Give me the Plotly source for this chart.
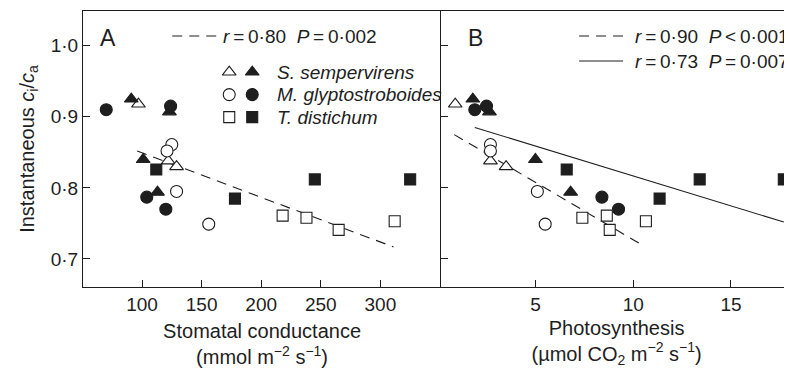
import plotly.graph_objects as go

# ---------------- data ----------------
# S. sempervirens
ss_open_ci = [0.918, 0.838, 0.830]
ss_open_gs = [97, 122, 129]
ss_open_ps = [0.9, 2.7, 3.5]
ss_fill_ci = [0.925, 0.907, 0.840, 0.794]
ss_fill_gs = [91, 123, 101, 113]
ss_fill_ps = [1.8, 2.65, 5.0, 6.8]
# M. glyptostroboides
mg_open_ci = [0.861, 0.852, 0.795, 0.749]
mg_open_gs = [125, 121, 129, 156]
mg_open_ps = [2.7, 2.7, 5.1, 5.5]
mg_fill_ci = [0.910, 0.915, 0.787, 0.770]
mg_fill_gs = [70, 124, 104, 120]
mg_fill_ps = [1.9, 2.5, 8.4, 9.25]
# T. distichum
td_open_ci = [0.761, 0.758, 0.741, 0.753]
td_open_gs = [218, 238, 265, 312]
td_open_ps = [8.65, 7.4, 8.8, 10.65]
td_fill_ci = [0.826, 0.785, 0.812, 0.812]
td_fill_gs = [112, 178, 245, 325]
td_fill_ps = [6.6, 11.35, 13.4, 17.7]

# regression lines (end points)
fitA_gs = [96, 311]
fitA_ci = [0.852, 0.717]
fitB_dash_ps = [0.85, 10.5]
fitB_dash_ci = [0.875, 0.719]
fitB_solid_ps = [1.9, 17.7]
fitB_solid_ci = [0.885, 0.752]

y_ticks = [0.7, 0.8, 0.9, 1.0]
y_tick_text = ["0·7", "0·8", "0·9", "1·0"]
xA_ticks = [100, 150, 200, 250, 300]
xB_ticks = [5, 10, 15]

species = ["<i>S. sempervirens</i>", "<i>M. glyptostroboides</i>", "<i>T. distichum</i>"]
stats_A = "<i>r</i>\u2009=\u20090·80  <i>P</i>\u2009=\u20090·002"
stats_B1 = "<i>r</i>\u2009=\u20090·90  <i>P</i>\u2009<\u20090·001"
stats_B2 = "<i>r</i>\u2009=\u20090·73  <i>P</i>\u2009=\u20090·007"

# ---------------- style ----------------
FONT = "Liberation Sans, Arial, sans-serif"
FS = 19
INK = "#1e1e1e"
OFF = 8                      # page body margin in the browser
W, H = 792 - OFF, 368 - OFF  # figure fills the rest of the window
# plot area in window pixels: x 82.7..792, y 11..286.7
L = 82.7 - OFF
R = 0
T = 11 - OFF
B = H - (286.7 - OFF)
splitA = (441 - 82.7) / (792 - 82.7)

fig = go.Figure()

def pts(x, y, sym, filled, xa, ya, size):
    fig.add_trace(go.Scatter(
        x=x, y=y, mode="markers", xaxis=xa, yaxis=ya, showlegend=False,
        marker=dict(symbol=sym, size=size,
                    color=INK if filled else "white",
                    line=dict(color=INK, width=1.1)),
        hoverinfo="skip"))

# fit lines
fig.add_trace(go.Scatter(x=fitA_gs, y=fitA_ci, mode="lines", xaxis="x", yaxis="y",
                         line=dict(color=INK, width=1.1, dash="10px,7px"), showlegend=False))
fig.add_trace(go.Scatter(x=fitB_dash_ps, y=fitB_dash_ci, mode="lines", xaxis="x2", yaxis="y2",
                         line=dict(color=INK, width=1.1, dash="10px,7px"), showlegend=False))
fig.add_trace(go.Scatter(x=fitB_solid_ps, y=fitB_solid_ci, mode="lines", xaxis="x2", yaxis="y2",
                         line=dict(color=INK, width=1.1), showlegend=False))

groups = [
    (ss_open_gs, ss_open_ps, ss_open_ci, "triangle-up", False, 12),
    (ss_fill_gs, ss_fill_ps, ss_fill_ci, "triangle-up", True, 12),
    (mg_open_gs, mg_open_ps, mg_open_ci, "circle", False, 12),
    (mg_fill_gs, mg_fill_ps, mg_fill_ci, "circle", True, 12),
    (td_open_gs, td_open_ps, td_open_ci, "square", False, 11),
    (td_fill_gs, td_fill_ps, td_fill_ci, "square", True, 11),
]
for gs, ps, ci, sym, filled, sz in groups:
    pts(gs, ci, sym, filled, "x", "y", sz)
    pts(ps, ci, sym, filled, "x2", "y2", sz)

# legend keys on a helper axis whose units are window pixels
leg_rows_y = [72, 94.5, 117]
leg_open_x = 229
leg_fill_x = 252
leg_syms = ["triangle-up", "circle", "square"]
leg_sizes = [12, 12, 11]
for yy, sym, sz in zip(leg_rows_y, leg_syms, leg_sizes):
    pts([leg_open_x], [yy], sym, False, "x3", "y3", sz)
    pts([leg_fill_x], [yy], sym, True, "x3", "y3", sz)

# legend line samples
fig.add_trace(go.Scatter(x=[172, 217], y=[36, 36], mode="lines", xaxis="x3", yaxis="y3",
                         line=dict(color=INK, width=1.1, dash="10px,7px"), showlegend=False))
fig.add_trace(go.Scatter(x=[579, 623], y=[36, 36], mode="lines", xaxis="x3", yaxis="y3",
                         line=dict(color=INK, width=1.1, dash="10px,7px"), showlegend=False))
fig.add_trace(go.Scatter(x=[579, 623], y=[61, 61], mode="lines", xaxis="x3", yaxis="y3",
                         line=dict(color=INK, width=1.1), showlegend=False))

def ann(px, py, text, xanchor="left", size=FS):
    fig.add_annotation(x=px, y=py, xref="x3", yref="y3", text=text, showarrow=False,
                       xanchor=xanchor, yanchor="middle",
                       font=dict(family=FONT, size=size, color=INK))

ann(108, 38, "A", "center", 23)
ann(475, 38, "B", "center", 23)
ann(221, 36, stats_A)
ann(633, 36, stats_B1)
ann(633, 61, stats_B2)
for yy, name in zip(leg_rows_y, species):
    ann(275, yy, name)

axcommon = dict(showline=True, linecolor=INK, linewidth=1.2, ticks="inside", ticklen=7,
                tickcolor=INK, tickwidth=1.1, showgrid=False, zeroline=False, automargin=False,
                tickfont=dict(family=FONT, size=FS, color=INK))
TF = dict(family=FONT, size=20, color=INK)

fig.update_layout(
    width=W, height=H, margin=dict(l=L, r=R, t=T, b=B, autoexpand=False),
    paper_bgcolor="white", plot_bgcolor="rgba(0,0,0,0)",
    font=dict(family=FONT, size=FS, color=INK),
    xaxis=dict(axcommon, domain=[0, splitA], range=[50.5, 351], mirror=True,
               tickvals=xA_ticks, anchor="y",
               title=dict(text="Stomatal conductance<br>(mmol m<sup>−2</sup> s<sup>−1</sup>)",
                          standoff=12, font=TF)),
    yaxis=dict(axcommon, domain=[0, 1], range=[0.6606, 1.0489], tickvals=y_ticks,
               ticktext=y_tick_text, anchor="x",
               title=dict(text="Instantaneous <i>c</i><sub>i</sub>/<i>c</i><sub>a</sub>",
                          standoff=10, font=TF)),
    xaxis2=dict(axcommon, domain=[splitA, 1], range=[0.18, 18.12], mirror=True,
                tickvals=xB_ticks, anchor="y2",
                title=dict(text="Photosynthesis<br>(µmol CO<sub>2</sub> m<sup>−2</sup> s<sup>−1</sup>)",
                           standoff=12, font=TF)),
    yaxis2=dict(axcommon, domain=[0, 1], range=[0.6606, 1.0489], tickvals=y_ticks,
                showticklabels=False, anchor="x2"),
    xaxis3=dict(domain=[0, 1], range=[82.7, 792], visible=False, anchor="y3", fixedrange=True),
    yaxis3=dict(domain=[0, 1], range=[286.7, 11], visible=False, anchor="x3", fixedrange=True),
)

fig.write_html("out.html")
